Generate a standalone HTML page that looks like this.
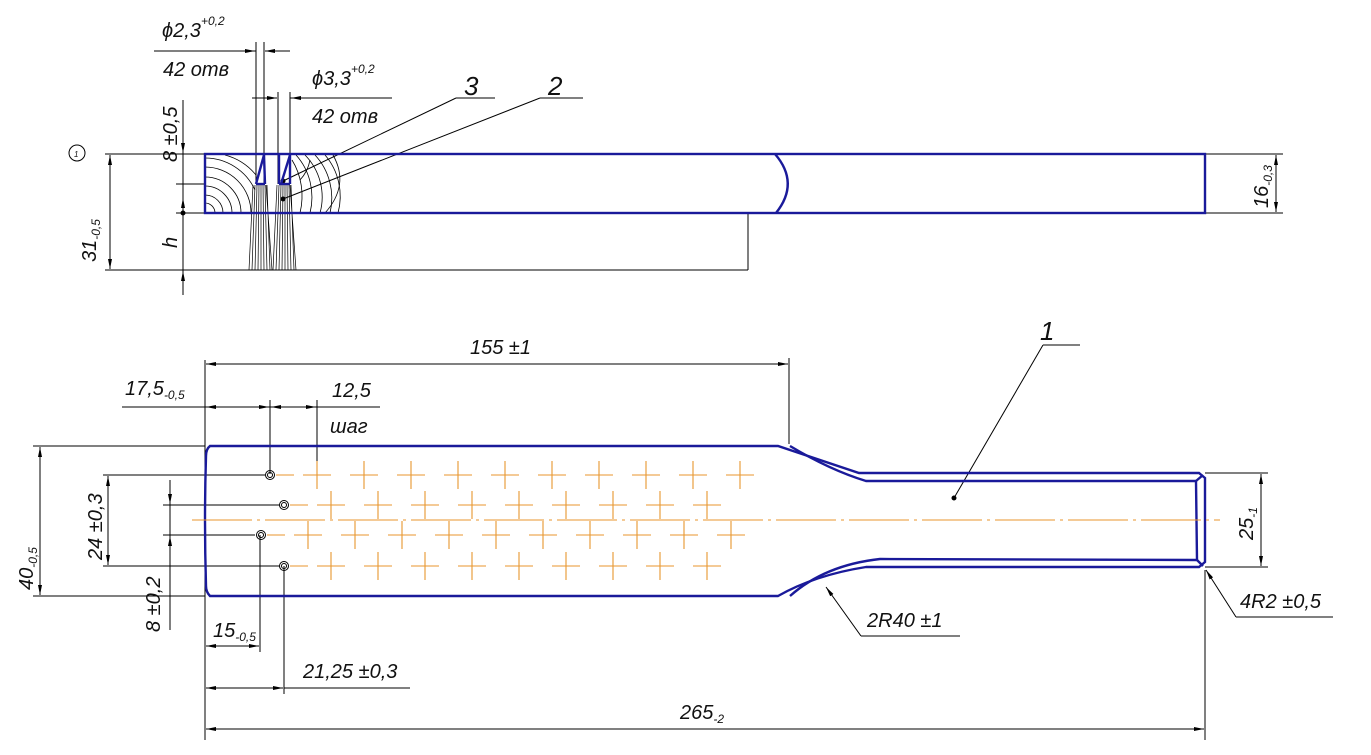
<!DOCTYPE html>
<html><head><meta charset="utf-8"><style>
html,body{margin:0;padding:0;background:#fff}
svg{display:block}
text{font-family:"Liberation Sans",sans-serif;font-style:italic;fill:#111}
</style></head><body>
<svg width="1371" height="755" viewBox="0 0 1371 755" xmlns="http://www.w3.org/2000/svg">
<defs>
<marker id="a" viewBox="0 0 10 4" refX="10" refY="2" markerWidth="10" markerHeight="4" orient="auto-start-reverse" markerUnits="userSpaceOnUse"><path d="M0,0L10,2L0,4z" fill="#000"/></marker>
</defs>
<g stroke="#000" stroke-width="1" fill="none">
<line x1="105" y1="154" x2="204" y2="154"/>
<line x1="105" y1="270" x2="748" y2="270"/>
<line x1="748" y1="213" x2="748" y2="270"/>
<line x1="110" y1="155" x2="110" y2="269" marker-start="url(#a)" marker-end="url(#a)"/>
<line x1="183" y1="100" x2="183" y2="295"/>
<line x1="183" y1="140" x2="183" y2="153" marker-end="url(#a)"/>
<line x1="183" y1="213" x2="183" y2="198" marker-end="url(#a)"/>
<line x1="183" y1="295" x2="183" y2="271" marker-end="url(#a)"/>
<line x1="176" y1="184" x2="204" y2="184"/>
<line x1="176" y1="213" x2="204" y2="213"/>
<circle cx="183" cy="213" r="2" fill="#000"/>
<line x1="1205" y1="154" x2="1283" y2="154"/><line x1="1205" y1="213" x2="1283" y2="213"/>
<line x1="1276" y1="155" x2="1276" y2="212" marker-start="url(#a)" marker-end="url(#a)"/>
<line x1="256" y1="42" x2="256" y2="184"/><line x1="264" y1="42" x2="264" y2="184"/>
<line x1="154" y1="51" x2="256" y2="51"/><line x1="238" y1="51" x2="255" y2="51" marker-end="url(#a)"/>
<line x1="290" y1="51" x2="265" y2="51" marker-end="url(#a)"/>
<line x1="278" y1="92" x2="278" y2="184"/><line x1="290" y1="92" x2="290" y2="184"/>
<line x1="252" y1="98" x2="277" y2="98" marker-end="url(#a)"/>
<line x1="290" y1="98" x2="392" y2="98"/><line x1="310" y1="98" x2="291" y2="98" marker-end="url(#a)"/>
<line x1="283" y1="181" x2="456" y2="98"/><line x1="456" y1="98" x2="495" y2="98"/>
<line x1="283" y1="199" x2="540" y2="98"/><line x1="540" y1="98" x2="583" y2="98"/>
<circle cx="283" cy="181" r="2" fill="#000"/><circle cx="283" cy="199" r="2" fill="#000"/>
<circle cx="77" cy="153" r="8"/>
<g stroke-width="0.8">
<path d="M205,203 A10,10 0 0 1 215,213"/><path d="M205,195 A18,18 0 0 1 223,213"/>
<path d="M205,186 A27,27 0 0 1 232,213"/><path d="M205,177 A36,36 0 0 1 241,213"/>
<path d="M205,167 A46,46 0 0 1 251,213"/><path d="M205,158 A55,55 0 0 1 255,190"/>
<path d="M225,155 A60,60 0 0 1 256,175"/>
<path d="M292,160 A50,60 0 0 1 300,213"/><path d="M296,155 A55,60 0 0 1 310,213"/>
<path d="M305,155 A60,60 0 0 1 320,213"/><path d="M315,155 A60,62 0 0 1 330,213"/>
<path d="M325,155 A60,62 0 0 1 338,213"/><path d="M333,155 Q350,185 325,213"/>
<path d="M310,160 A40,40 0 0 1 300,180"/>
</g>
<g stroke-width="0.7">
<path d="M253,185 L249,270 M255,185 L252,270 M257,185 L255,270 M259,185 L258,270 M261,185 L261,270 M263,185 L264,270 M265,185 L267,270 M267,185 L270,270 M266,185 L272,270"/>
<path d="M277,185 L273,270 M279,185 L276,270 M281,185 L279,270 M283,185 L282,270 M285,185 L285,270 M287,185 L288,270 M289,185 L291,270 M291,185 L294,270 M290,185 L296,270"/>
</g>
<line x1="205" y1="360" x2="205" y2="740"/>
<line x1="789" y1="358" x2="789" y2="444"/>
<line x1="206" y1="364" x2="788" y2="364" marker-start="url(#a)" marker-end="url(#a)"/>
<line x1="122" y1="407" x2="380" y2="407"/>
<line x1="206" y1="407" x2="269" y2="407" marker-start="url(#a)" marker-end="url(#a)"/>
<line x1="271" y1="407" x2="316" y2="407" marker-start="url(#a)" marker-end="url(#a)"/>
<line x1="270" y1="400" x2="270" y2="474"/><line x1="317" y1="400" x2="317" y2="474"/>
<line x1="33" y1="446" x2="205" y2="446"/><line x1="33" y1="596" x2="205" y2="596"/>
<line x1="40" y1="447" x2="40" y2="595" marker-start="url(#a)" marker-end="url(#a)"/>
<line x1="103" y1="475" x2="265" y2="475"/><line x1="103" y1="566" x2="280" y2="566"/>
<line x1="108" y1="476" x2="108" y2="565" marker-start="url(#a)" marker-end="url(#a)"/>
<line x1="163" y1="505" x2="280" y2="505"/><line x1="163" y1="535" x2="255" y2="535"/>
<line x1="170" y1="480" x2="170" y2="630"/>
<line x1="170" y1="485" x2="170" y2="504" marker-end="url(#a)"/>
<line x1="170" y1="555" x2="170" y2="536" marker-end="url(#a)"/>
<line x1="260" y1="535" x2="260" y2="652"/><line x1="284" y1="566" x2="284" y2="694"/>
<line x1="206" y1="646" x2="259" y2="646" marker-start="url(#a)" marker-end="url(#a)"/>
<line x1="206" y1="688" x2="283" y2="688" marker-start="url(#a)" marker-end="url(#a)"/>
<line x1="284" y1="688" x2="410" y2="688"/>
<line x1="1205" y1="570" x2="1205" y2="740"/>
<line x1="206" y1="729" x2="1204" y2="729" marker-start="url(#a)" marker-end="url(#a)"/>
<line x1="1205" y1="473" x2="1268" y2="473"/><line x1="1205" y1="567" x2="1268" y2="567"/>
<line x1="1261" y1="474" x2="1261" y2="566" marker-start="url(#a)" marker-end="url(#a)"/>
<line x1="1236" y1="617" x2="1206" y2="570" marker-end="url(#a)"/>
<line x1="1236" y1="617" x2="1333" y2="617"/>
<line x1="861" y1="636" x2="826" y2="587" marker-end="url(#a)"/>
<line x1="861" y1="636" x2="960" y2="636"/>
<line x1="954" y1="498" x2="1043" y2="345"/><line x1="1043" y1="345" x2="1080" y2="345"/>
<circle cx="954" cy="498" r="2" fill="#000"/>
<circle cx="270" cy="475" r="4.5"/><circle cx="270" cy="475" r="2.5"/>
<circle cx="284" cy="505" r="4.5"/><circle cx="284" cy="505" r="2.5"/>
<circle cx="261" cy="535" r="4.5"/><circle cx="261" cy="535" r="2.5"/>
<circle cx="284" cy="566" r="4.5"/><circle cx="284" cy="566" r="2.5"/>
</g>
<g stroke="#1a1a9a" stroke-width="2.4" fill="none">
<rect x="205" y="154" width="1000" height="59"/>
<line x1="256" y1="184" x2="265" y2="184"/><line x1="256" y1="184" x2="264" y2="155"/><line x1="264" y1="155" x2="265" y2="184"/>
<line x1="279" y1="155" x2="279" y2="184"/><line x1="279" y1="184" x2="290" y2="184"/><line x1="281" y1="184" x2="290" y2="155"/><line x1="290" y1="155" x2="290" y2="184"/>
<path d="M775,154 Q800,183 776,213"/>
<path d="M210,446 L778,446 Q820,460 859,473 L1199,473 L1205,478 L1205,562 L1199,567 L866,567 Q815,575 778,596 L210,596 Q206,592 206,586 Q204,520 206,456 Q206,449 210,446Z"/>
<path d="M790,446 Q830,470 866,481 L1196,481 L1197,560 L880,559 Q825,565 790,596"/>
<line x1="1196" y1="481" x2="1203" y2="475"/><line x1="1197" y1="560" x2="1203" y2="566"/>
</g>
<g stroke="#e8962e" stroke-width="1.1" fill="none">
<line x1="192" y1="520" x2="1220" y2="520" stroke-dasharray="60,5,3,5"/>
<path d="M303,475h28M317,461v28M350,475h28M364,461v28M397,475h28M411,461v28M444,475h28M458,461v28M491,475h28M505,461v28M538,475h28M552,461v28M585,475h28M599,461v28M632,475h28M646,461v28M679,475h28M693,461v28M726,475h28M740,461v28M276,475h18"/>
<path d="M317,505h28M331,491v28M364,505h28M378,491v28M411,505h28M425,491v28M458,505h28M472,491v28M505,505h28M519,491v28M552,505h28M566,491v28M599,505h28M613,491v28M646,505h28M660,491v28M693,505h28M707,491v28M290,505h18"/>
<path d="M294,535h28M308,521v28M341,535h28M355,521v28M388,535h28M402,521v28M435,535h28M449,521v28M482,535h28M496,521v28M529,535h28M543,521v28M576,535h28M590,521v28M623,535h28M637,521v28M670,535h28M684,521v28M717,535h28M731,521v28M267,535h18"/>
<path d="M317,566h28M331,552v28M364,566h28M378,552v28M411,566h28M425,552v28M458,566h28M472,552v28M505,566h28M519,552v28M552,566h28M566,552v28M599,566h28M613,552v28M646,566h28M660,552v28M693,566h28M707,552v28M290,566h18"/>
</g>
<g font-size="20">
<text x="162" y="37">ϕ2,3<tspan font-size="12" dy="-12">+0,2</tspan></text>
<text x="163" y="76">42 отв</text>
<text x="312" y="85">ϕ3,3<tspan font-size="12" dy="-12">+0,2</tspan></text>
<text x="312" y="123">42 отв</text>
<text x="464" y="95" font-size="26">3</text>
<text x="548" y="95" font-size="26">2</text>
<text x="1040" y="340" font-size="26">1</text>
<text transform="translate(177,162) rotate(-90)">8 ±0,5</text>
<text transform="translate(177,248) rotate(-90)">h</text>
<text transform="translate(96,262) rotate(-90)">31<tspan font-size="12" dy="4">-0,5</tspan></text>
<text transform="translate(1268,208) rotate(-90)">16<tspan font-size="12" dy="4">-0,3</tspan></text>
<text x="470" y="354">155 ±1</text>
<text x="125" y="395">17,5<tspan font-size="12" dy="4">-0,5</tspan></text>
<text x="332" y="397">12,5</text>
<text x="330" y="433">шаг</text>
<text transform="translate(33,590) rotate(-90)">40<tspan font-size="12" dy="4">-0,5</tspan></text>
<text transform="translate(102,560) rotate(-90)">24 ±0,3</text>
<text transform="translate(160,632) rotate(-90)">8 ±0,2</text>
<text x="213" y="637">15<tspan font-size="12" dy="4">-0,5</tspan></text>
<text x="303" y="678">21,25 ±0,3</text>
<text x="680" y="719">265<tspan font-size="12" dy="4">-2</tspan></text>
<text x="867" y="627">2R40 ±1</text>
<text x="1240" y="608">4R2 ±0,5</text>
<text transform="translate(1253,540) rotate(-90)">25<tspan font-size="12" dy="4">-1</tspan></text>
<text x="74" y="157" font-size="8">1</text>
</g>
</svg>
</body></html>
